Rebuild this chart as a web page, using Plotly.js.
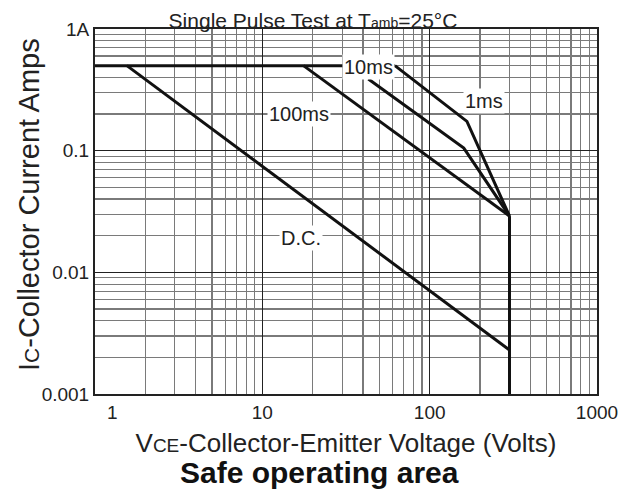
<!DOCTYPE html>
<html>
<head>
<meta charset="utf-8">
<script src="https://cdn.plot.ly/plotly-3.0.1.min.js"></script>
<style>html,body{margin:0;padding:0;background:#fff;}#chart{width:632px;height:494px;}</style>
</head>
<body>
<div id="chart"></div>
<script>
// ---- data (V in volts, I in amps) ----
const limitV = [1, 62];          // current limit line at 0.5 A
const limitI = [0.5, 0.5];
const ms1V = [62, 167, 300];
const ms1I = [0.5, 0.174, 0.029];
const ms10V = [43, 160, 300];
const ms10I = [0.388, 0.105, 0.029];
const ms100V = [17.6, 300];
const ms100I = [0.5, 0.029];
const dcV = [1.55, 300];
const dcI = [0.5, 0.0023];
const edgeV = [300, 300];
const edgeI = [0.029, 0.00093];

const curveLabels = ['10ms', '1ms', '100ms', 'D.C.'];
const labelV = [43, 210, 16.6, 17];
const labelI = [0.49, 0.257, 0.2, 0.0193];

const xTickVals = [10, 100, 1000];
const xTickText = ['10', '100', '1000'];
const yTickVals = [0.001, 0.01, 0.1, 1];
const yTickText = ['0.001', '0.01', '0.1', '1A'];

const FONT = 'Liberation Sans, Arial, Helvetica, sans-serif';
const lineStyle = {color: '#111', width: 3};

function tr(x, y, clip) {
  return {x: x, y: y, type: 'scatter', mode: 'lines', line: lineStyle,
          hoverinfo: 'skip', showlegend: false, cliponaxis: clip};
}
const data = [
  tr(limitV, limitI, true),
  tr(ms1V, ms1I, true),
  tr(ms10V, ms10I, true),
  tr(ms100V, ms100I, true),
  tr(dcV, dcI, true),
  tr(edgeV, edgeI, false)
];

const M = {l: 95, r: 35, t: 29, b: 100};
const plotH = 494 - M.t - M.b, plotW = 632 - M.l - M.r;

const annotations = curveLabels.map((t, i) => ({
  x: Math.log10(labelV[i]), y: Math.log10(labelI[i]), xref: 'x', yref: 'y',
  text: t, showarrow: false, bgcolor: '#ffffff', borderpad: 1,
  font: {family: FONT, size: 20, color: '#222'}
}));
annotations.push({
  x: 0, y: 0, xref: 'x', yref: 'paper', text: '1', showarrow: false,
  xshift: 17, yshift: -31, font: {family: FONT, size: 19, color: '#222'}
});
annotations.push({
  x: (319 - M.l) / plotW, y: (494 - M.b - 472) / plotH, xref: 'paper', yref: 'paper',
  text: '<b>Safe operating area</b>',
  showarrow: false, xanchor: 'center', yanchor: 'middle',
  font: {family: FONT, size: 30, color: '#111'}
});
annotations.push({
  x: (29 - M.l) / plotW, y: (494 - M.b - 205) / plotH, xref: 'paper', yref: 'paper',
  text: "I<span style='font-size:21px'>C</span>-Collector Current Amps",
  textangle: -90, showarrow: false, xanchor: 'center', yanchor: 'middle',
  font: {family: FONT, size: 29, color: '#222'}
});

const layout = {
  width: 632, height: 494,
  margin: M,
  paper_bgcolor: '#fff', plot_bgcolor: '#fff',
  font: {family: FONT, color: '#222'},
  title: {
    text: "Single Pulse Test at T<span style='font-size:14px'>amb</span>=25°C",
    x: 313 / 632, xref: 'container', xanchor: 'center',
    y: 1 - 21 / 494, yref: 'container', yanchor: 'middle',
    font: {family: FONT, size: 21, color: '#222'}
  },
  xaxis: {
    type: 'log', range: [0, 3], autorange: false,
    tickmode: 'array', tickvals: xTickVals, ticktext: xTickText,
    tickfont: {family: FONT, size: 19, color: '#222'},
    ticks: '', showgrid: true, gridcolor: '#222', gridwidth: 1.5,
    minor: {dtick: 'D1', showgrid: true, gridcolor: '#7a7a7a', gridwidth: 1.2, ticks: ''},
    showline: true, mirror: true, linecolor: '#222', linewidth: 2,
    zeroline: false, automargin: false,
    title: {text: "V<span style='font-size:19px'>CE</span>-Collector-Emitter Voltage (Volts)",
            font: {family: FONT, size: 26, color: '#222'}, standoff: 12}
  },
  yaxis: {
    type: 'log', range: [-3, 0], autorange: false,
    tickmode: 'array', tickvals: yTickVals, ticktext: yTickText,
    tickfont: {family: FONT, size: 19, color: '#222'},
    ticks: '', showgrid: true, gridcolor: '#222', gridwidth: 1.5,
    minor: {dtick: 'D1', showgrid: true, gridcolor: '#7a7a7a', gridwidth: 1.2, ticks: ''},
    showline: true, mirror: true, linecolor: '#222', linewidth: 2,
    zeroline: false, automargin: false
  },
  annotations: annotations
};

Plotly.newPlot('chart', data, layout, {staticPlot: true, displayModeBar: false});
</script>
</body>
</html>
